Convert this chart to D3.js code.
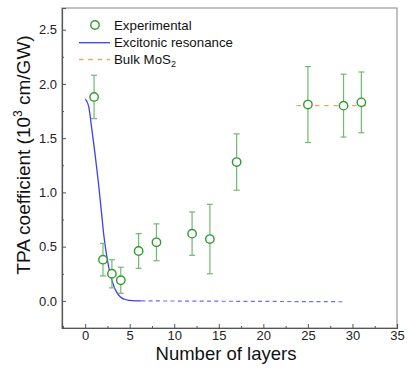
<!DOCTYPE html>
<html>
<head>
<meta charset="utf-8">
<script src="https://cdn.jsdelivr.net/npm/d3@7"></script>
<style>
  body { margin: 0; background: #fff; }
  svg { display: block; font-family: "Liberation Sans", Arial, sans-serif; }
</style>
</head>
<body>
<svg id="chart" width="419" height="370"></svg>
<script>
// measured points
var layers   = [1, 2, 3, 4, 6, 8, 12, 14, 17, 25, 29, 31];
var tpa      = [1.88, 0.38, 0.25, 0.19, 0.46, 0.54, 0.62, 0.57, 1.28, 1.81, 1.80, 1.83];
var errHigh  = [2.08, 0.53, 0.38, 0.31, 0.62, 0.71, 0.82, 0.89, 1.54, 2.16, 2.09, 2.11];
var errLow   = [1.68, 0.23, 0.12, 0.07, 0.30, 0.37, 0.42, 0.25, 1.02, 1.46, 1.51, 1.55];

// excitonic resonance curve
var excX = [0.03, 0.4, 0.75, 1.1, 1.5, 1.85, 2.1, 2.45, 2.8, 3.2, 3.5, 3.9, 4.4, 5.0, 5.6, 6.3];
var excY = [1.86, 1.79, 1.58, 1.36, 1.08, 0.80, 0.60, 0.40, 0.25, 0.14, 0.085, 0.04, 0.015, 0.004, 0.0, 0.0];
var excTailX = [6.3, 29];
var excTailY = [0.0, -0.008];

// bulk level
var bulkX = [23.7, 31.8];
var bulkY = [1.80, 1.80];

var xTicks = [0, 5, 10, 15, 20, 25, 30, 35];
var yTicks = [0, 0.5, 1.0, 1.5, 2.0, 2.5];

var pl = 62, pr = 397, pt = 8, pb = 328;
var svg = d3.select("#chart");

var x = d3.scaleLinear().domain([-2.6, 35]).range([pl, pr]);
var y = d3.scaleLinear().domain([-0.25, 2.7]).range([pb, pt]);

// frame
svg.append("rect").attr("x", pl).attr("y", pt)
  .attr("width", pr - pl).attr("height", pb - pt)
  .attr("fill", "none").attr("stroke", "#9a9a9a").attr("stroke-width", 1.2);

// axes
var xMinor = d3.range(-2.5, 35, 2.5).filter(function (v) { return v % 5 != 0; });
var yMinor = d3.range(-0.25, 2.7, 0.25).filter(function (v) { return Math.abs(v * 2 - Math.round(v * 2)) > 0.01; });

svg.append("g").attr("transform", "translate(0," + pb + ")")
  .call(d3.axisBottom(x).tickValues(xMinor).tickSize(-2).tickFormat(""))
  .call(function (g) { g.select(".domain").remove(); g.selectAll("line").attr("stroke", "#555"); });
var xa = svg.append("g").attr("transform", "translate(0," + pb + ")")
  .call(d3.axisBottom(x).tickValues(xTicks).tickSize(-4).tickPadding(3).tickFormat(d3.format("d")));
xa.select(".domain").attr("stroke", "#555").attr("stroke-width", 1.2);
xa.selectAll("line").attr("stroke", "#555");
xa.selectAll("text").attr("font-size", 13).attr("fill", "#222").style("font-family", "Liberation Sans, Arial");

svg.append("g").attr("transform", "translate(" + pl + ",0)")
  .call(d3.axisLeft(y).tickValues(yMinor).tickSize(-2).tickFormat(""))
  .call(function (g) { g.select(".domain").remove(); g.selectAll("line").attr("stroke", "#555"); });
var ya = svg.append("g").attr("transform", "translate(" + pl + ",0)")
  .call(d3.axisLeft(y).tickValues(yTicks).tickSize(-4).tickPadding(5).tickFormat(d3.format(".1f")));
ya.select(".domain").attr("stroke", "#555").attr("stroke-width", 1.2);
ya.selectAll("line").attr("stroke", "#555");
ya.selectAll("text").attr("font-size", 13).attr("fill", "#222").style("font-family", "Liberation Sans, Arial");

// axis titles
svg.append("text").attr("x", 226).attr("y", 360).attr("text-anchor", "middle")
  .attr("font-size", 18.5).attr("fill", "#111").text("Number of layers");

var yt = svg.append("text").attr("transform", "translate(30,155) rotate(-90)")
  .attr("text-anchor", "middle").attr("font-size", 19).attr("fill", "#111");
yt.append("tspan").text("TPA coefficient (10");
yt.append("tspan").attr("font-size", 12).attr("dy", -8).text("3");
yt.append("tspan").attr("dy", 8).text(" cm/GW)");

var line = d3.line().x(function (d) { return x(d[0]); }).y(function (d) { return y(d[1]); });

// curves
svg.append("path").attr("d", line.curve(d3.curveMonotoneX)(d3.zip(excX, excY)))
  .attr("fill", "none").attr("stroke", "#3d3df5").attr("stroke-width", 1.3);
svg.append("path").attr("d", d3.line().x(function (d) { return x(d[0]); }).y(function (d) { return y(d[1]); })(d3.zip(excTailX, excTailY)))
  .attr("fill", "none").attr("stroke", "#6b6bf7").attr("stroke-width", 1.2).attr("stroke-dasharray", "4,3.3");
svg.append("path").attr("d", d3.line().x(function (d) { return x(d[0]); }).y(function (d) { return y(d[1]); })(d3.zip(bulkX, bulkY)))
  .attr("fill", "none").attr("stroke", "#f5a35c").attr("stroke-width", 1.3).attr("stroke-dasharray", "4.5,4.8");

// error bars
var pts = layers.map(function (l, i) { return { x: l, y: tpa[i], hi: errHigh[i], lo: errLow[i] }; });
var eb = svg.append("g").selectAll("g").data(pts).enter().append("g")
  .attr("stroke", "#6fba6f").attr("stroke-width", 1.2);
eb.append("line").attr("x1", function (d) { return x(d.x); }).attr("x2", function (d) { return x(d.x); })
  .attr("y1", function (d) { return y(d.hi); }).attr("y2", function (d) { return y(d.lo); });
eb.append("line").attr("x1", function (d) { return x(d.x) - 3; }).attr("x2", function (d) { return x(d.x) + 3; })
  .attr("y1", function (d) { return y(d.hi); }).attr("y2", function (d) { return y(d.hi); });
eb.append("line").attr("x1", function (d) { return x(d.x) - 3; }).attr("x2", function (d) { return x(d.x) + 3; })
  .attr("y1", function (d) { return y(d.lo); }).attr("y2", function (d) { return y(d.lo); });

svg.append("g").selectAll("circle").data(pts).enter().append("circle")
  .attr("cx", function (d) { return x(d.x); }).attr("cy", function (d) { return y(d.y); })
  .attr("r", 4.2).attr("fill", "#fff").attr("stroke", "#2f9a2f").attr("stroke-width", 1.4);

// legend
var lg = svg.append("g").attr("font-size", 13.3).attr("fill", "#111");
lg.append("circle").attr("cx", 95).attr("cy", 25).attr("r", 4.2)
  .attr("fill", "#fff").attr("stroke", "#2f9a2f").attr("stroke-width", 1.4);
lg.append("text").attr("x", 114).attr("y", 29.5).text("Experimental");
lg.append("line").attr("x1", 79).attr("x2", 110).attr("y1", 42.7).attr("y2", 42.7)
  .attr("stroke", "#3d3df5").attr("stroke-width", 1.3);
lg.append("text").attr("x", 114).attr("y", 47).text("Excitonic resonance");
lg.append("line").attr("x1", 79).attr("x2", 110).attr("y1", 59.5).attr("y2", 59.5)
  .attr("stroke", "#f5a35c").attr("stroke-width", 1.3).attr("stroke-dasharray", "4.5,4.8");
var bt = lg.append("text").attr("x", 114).attr("y", 64);
bt.append("tspan").text("Bulk MoS");
bt.append("tspan").attr("font-size", 9).attr("dy", 3).text("2");
</script>
</body>
</html>
